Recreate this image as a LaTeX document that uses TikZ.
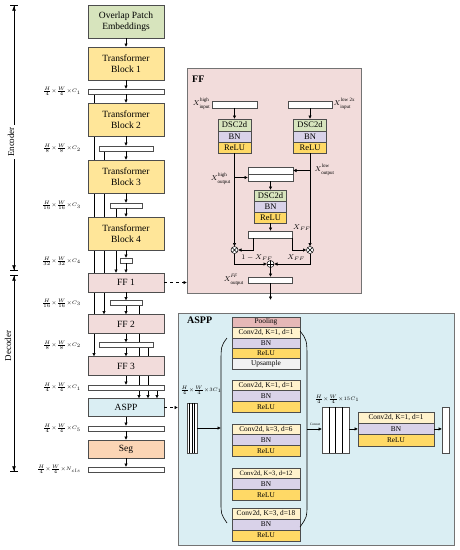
\documentclass[tikz,border=0pt]{standalone}
\usepackage{fontspec}
\setmainfont{Liberation Serif}
\usetikzlibrary{arrows.meta,positioning,calc,backgrounds}
\definecolor{cgreen}{HTML}{D7E4BD}
\definecolor{cyel}{HTML}{FFE699}
\definecolor{cpink}{HTML}{F2DCDB}
\definecolor{cblue}{HTML}{DAEEF3}
\definecolor{cseg}{HTML}{FBD5B5}
\definecolor{cbn}{HTML}{D9D2E9}
\definecolor{crelu}{HTML}{FFD966}
\definecolor{cconv}{HTML}{FFF2CC}
\definecolor{cpool}{HTML}{E6B8B7}
\definecolor{cups}{HTML}{F2F2F2}
\definecolor{edge}{HTML}{4D4D4D}
\newcommand{\tms}{{\times}}
\newcommand{\XX}[2]{$X^{\raisebox{0.9pt}{$\scriptstyle\mathrm{#1}$}}_{\raisebox{-0.9pt}{$\scriptstyle\mathrm{#2}$}}$}
\begin{document}
\begin{tikzpicture}[x=1pt,y=-1pt,
  blk/.style={draw=edge, line width=0.7pt, inner sep=0pt, outer sep=0pt, align=center, minimum width=76pt, font=\fontsize{9.5}{10.5}\selectfont},
  bar/.style={draw=edge, fill=white, line width=0.6pt, inner sep=0pt, outer sep=0pt, minimum height=5pt},
  arr/.style={-{Latex[length=3.5pt,width=3.5pt]}, line width=0.6pt, draw=black},
  dim/.style={font=\fontsize{5.5}{6.5}\selectfont, anchor=east, inner sep=0pt},
  row/.style={draw=edge, line width=0.5pt, inner sep=0pt, outer sep=0pt, minimum width=68pt, font=\fontsize{7.3}{8}\selectfont},
  frow/.style={draw=edge, line width=0.5pt, inner sep=0pt, outer sep=0pt, minimum width=33pt, minimum height=11pt, font=\fontsize{8.5}{9}\selectfont},
  lab/.style={inner sep=0pt, font=\fontsize{7}{8}\selectfont},
  bigbox/.style={draw=black!55, line width=1pt, inner sep=0pt, outer sep=0pt},
  opnode/.style={circle, draw=black, fill=white, line width=0.5pt, minimum size=7pt, inner sep=0pt, outer sep=0pt},
]
\useasboundingbox (0,0) rectangle (459,550);

% ---------------- left column ----------------
\node[blk, fill=cgreen, minimum height=33pt] (ope) at (126,21.5) {Overlap Patch\\Embeddings};
\node[blk, fill=cyel, minimum height=33pt] (tb1) at (126,63.5) {Transformer\\Block 1};
\node[bar, minimum width=76pt] (bar1) at (126,91.5) {};
\node[blk, fill=cyel, minimum height=33pt] (tb2) at (126,119.5) {Transformer\\Block 2};
\node[bar, minimum width=54pt] (bar2) at (126,148.5) {};
\node[blk, fill=cyel, minimum height=33pt] (tb3) at (126,176.5) {Transformer\\Block 3};
\node[bar, minimum width=32pt] (bar3) at (126,205.5) {};
\node[blk, fill=cyel, minimum height=33pt] (tb4) at (126,233.5) {Transformer\\Block 4};
\node[bar, minimum width=12pt] (bar4) at (126,260.5) {};
\node[blk, fill=cpink, minimum height=19pt] (ff1) at (126,282.5) {FF 1};
\node[bar, minimum width=32pt] (bar5) at (126,303) {};
\node[blk, fill=cpink, minimum height=19pt] (ff2) at (126,324) {FF 2};
\node[bar, minimum width=54pt] (bar6) at (126,345) {};
\node[blk, fill=cpink, minimum height=19pt] (ff3) at (126,366) {FF 3};
\node[bar, minimum width=76pt] (bar7) at (126,387.5) {};
\node[blk, fill=cblue, minimum height=18pt] (aspp) at (126,407.5) {ASPP};
\node[bar, minimum width=76pt] (bar8) at (126,428.5) {};
\node[blk, fill=cseg, minimum height=18pt] (seg) at (126,449) {Seg};
\node[bar, minimum width=76pt] (bar9) at (126,469.5) {};

\node[dim] (d1) at (81,91.5) {$\frac{H}{4}\tms\frac{W}{4}\tms C_1$};
\node[dim] (d2) at (81,148.5) {$\frac{H}{8}\tms\frac{W}{8}\tms C_2$};
\node[dim] (d3) at (81,205.5) {$\frac{H}{16}\tms\frac{W}{16}\tms C_3$};
\node[dim] (d4) at (81,261) {$\frac{H}{32}\tms\frac{W}{32}\tms C_4$};
\node[dim] (d5) at (81,303) {$\frac{H}{16}\tms\frac{W}{16}\tms C_3$};
\node[dim] (d6) at (81,345) {$\frac{H}{8}\tms\frac{W}{8}\tms C_2$};
\node[dim] (d7) at (81,387.5) {$\frac{H}{4}\tms\frac{W}{4}\tms C_1$};
\node[dim] (d8) at (81,428.5) {$\frac{H}{4}\tms\frac{W}{4}\tms C_5$};
\node[dim] (d9) at (81,469.5) {$\frac{H}{4}\tms\frac{W}{4}\tms N_{cls}$};

\coordinate (c94) at (94,0);
\coordinate (c104) at (104,0);
\coordinate (c116) at (116,0);
\coordinate (c139) at (139,0);
\coordinate (c148) at (148,0);
\coordinate (c157) at (157,0);

\begin{scope}[on background layer]
\draw[arr] (bar1.south -| c94) -- (ff3.north -| c94);
\draw[arr] (bar2.south -| c104) -- (ff2.north -| c104);
\draw[arr] (bar3.south -| c116) -- (ff1.north -| c116);
\draw[arr] (bar5.south -| c139) -- (aspp.north -| c139);
\draw[arr] (bar6.south -| c148) -- (aspp.north -| c148);
\draw[arr] (bar7.south -| c157) -- (aspp.north -| c157);
\end{scope}

\foreach \a/\b in {ope/tb1,tb1/bar1,bar1/tb2,tb2/bar2,bar2/tb3,tb3/bar3,bar3/tb4,tb4/bar4,bar4/ff1,ff1/bar5,bar5/ff2,ff2/bar6,bar6/ff3,ff3/bar7,aspp/bar8,bar8/seg,seg/bar9}
  \draw[arr] (\a.south) -- (\b.north);

% encoder / decoder
\coordinate (encT) at (14,5);
\coordinate (encB) at (14,271);
\coordinate (decT) at (14,275);
\coordinate (decB) at (14,472);
\draw[line width=0.7pt, {Bar[width=8pt]Latex[length=5pt,width=4pt]}-{Latex[length=5pt,width=4pt]Bar[width=8pt]}] (encT) -- (encB);
\draw[line width=0.7pt, {Bar[width=8pt]Latex[length=5pt,width=4pt]}-{Latex[length=5pt,width=4pt]Bar[width=8pt]}] (decT) -- (decB);
\node[rotate=90, fill=white, inner sep=2pt, font=\fontsize{9}{10}\selectfont] (enc) at (11,142) {Encoder};
\node[rotate=90, inner sep=0pt, font=\fontsize{9}{10}\selectfont] (dec) at (8,346) {Decoder};

% ---------------- FF box ----------------
\node[bigbox, fill=cpink, minimum width=174pt, minimum height=225pt] (ffbox) at (274,180.5) {};
\node[font=\bfseries\fontsize{10}{11}\selectfont, anchor=west, inner sep=0pt] (fft) at (192,79) {FF};
\node[bar, minimum width=45pt, minimum height=7pt] (ib1) at (234.5,104.5) {};
\node[bar, minimum width=44pt, minimum height=7pt] (ib2) at (310,104.5) {};
\node[lab, anchor=east] (lib1) at (210.5,104) {\XX{high}{input}};
\node[lab, anchor=west] (lib2) at (333.5,104) {\XX{low\,2x}{input}};

\node[frow, fill=cgreen, minimum height=12pt, anchor=north] (ld) at (234.5,119) {DSC2d};
\node[frow, fill=cbn, below=0pt of ld] (lb) {BN};
\node[frow, fill=crelu, below=0pt of lb] (lr) {ReLU};
\node[frow, fill=cgreen, minimum height=12pt, anchor=north] (rd) at (310,119) {DSC2d};
\node[frow, fill=cbn, below=0pt of rd] (rb) {BN};
\node[frow, fill=crelu, below=0pt of rb] (rr) {ReLU};

\node[bar, minimum width=45pt, minimum height=7pt] (cu) at (270.5,170.5) {};
\node[bar, minimum width=45pt, minimum height=7pt] (cl) at (270.5,177.5) {};
\node[lab, anchor=east] (lo1) at (231,179) {\XX{high}{output}};
\node[lab, anchor=west] (lo2) at (314.5,170) {\XX{low}{output}};

\node[frow, fill=cgreen, minimum width=32pt, anchor=north] (md) at (270.5,190) {DSC2d};
\node[frow, fill=cbn, minimum width=32pt, below=0pt of md] (mb) {BN};
\node[frow, fill=crelu, minimum width=32pt, below=0pt of mb] (mr) {ReLU};

\node[bar, minimum width=44pt, minimum height=7pt] (xff) at (270.5,234.5) {};
\node[lab, anchor=west] (lxff) at (293,228) {$X_{FF}$};
\node[opnode] (mL) at (234.5,250) {};
\node[opnode] (mR) at (310,250) {};
\draw[line width=0.5pt] (mL.north west) -- (mL.south east) (mL.north east) -- (mL.south west);
\draw[line width=0.5pt] (mR.north west) -- (mR.south east) (mR.north east) -- (mR.south west);
\node[lab] (l1m) at (257,257.5) {$1-X_{FF}$};
\node[lab] (lxr) at (296,257.5) {$X_{FF}$};
\node[opnode] (pl) at (270.5,264) {};
\draw[line width=0.5pt] (pl.north) -- (pl.south) (pl.west) -- (pl.east);
\node[bar, minimum width=44pt, minimum height=6pt] (ob) at (270.5,280) {};
\node[lab, anchor=east] (lob) at (244,280) {\XX{\mathit{FF}}{output}};
\coordinate (ffout) at (270.5,300);

\draw[arr] (ib1) -- (ld);
\draw[arr] (ib2) -- (rd);
\draw[arr] (lr.south) -- (mL.north);
\draw[arr] (rr.south) -- (mR.north);
\draw[arr] (cl.west -| lr.south) -- (cl.west);
\draw[arr] (cu.east -| rr.south) -- (cu.east);
\draw[arr] (cl.south) -- (md.north);
\draw[arr] (mr.south) -- (xff.north);
\draw[arr] ([xshift=4.5pt]xff.south west) |- (mL.east);
\draw[arr] (xff.south east) |- (mR.west);
\draw[arr] (mL.south) |- (pl.west);
\draw[arr] (mR.south) |- (pl.east);
\draw[arr] (pl.south) -- (ob.north);
\draw[arr] (ob.south) -- (ffout);

\draw[arr, dashed] (ff1.east) -- (ff1.east -| ffbox.west);

% ---------------- ASPP box ----------------
\node[bigbox, fill=cblue, minimum width=276pt, minimum height=232pt] (asppbox) at (316,429) {};
\node[font=\bfseries\fontsize{10}{11}\selectfont, anchor=west, inner sep=0pt] (asppt) at (187,320) {ASPP};
\draw[arr, dashed] (aspp.east) -- (aspp.east -| asppbox.west);

\node[row, fill=cpool, minimum height=10.4pt, anchor=north] (p1) at (266,317) {Pooling};
\node[row, fill=cconv, minimum height=10.4pt, below=0pt of p1] (p2) {Conv2d, K=1, d=1};
\node[row, fill=cbn, minimum height=10.4pt, below=0pt of p2] (p3) {BN};
\node[row, fill=crelu, minimum height=10.4pt, below=0pt of p3] (p4) {ReLU};
\node[row, fill=cups, minimum height=10.4pt, below=0pt of p4] (p5) {Upsample};

\node[row, fill=cconv, minimum height=10.67pt, anchor=north] (a1) at (266,380) {Conv2d, K=1, d=1};
\node[row, fill=cbn, minimum height=10.67pt, below=0pt of a1] (a2) {BN};
\node[row, fill=crelu, minimum height=10.67pt, below=0pt of a2] (a3) {ReLU};

\node[row, fill=cconv, minimum height=10.67pt, anchor=north] (b1) at (266,424) {Conv2d, k=3, d=6};
\node[row, fill=cbn, minimum height=10.67pt, below=0pt of b1] (b2) {BN};
\node[row, fill=crelu, minimum height=10.67pt, below=0pt of b2] (b3) {ReLU};

\node[row, fill=cconv, minimum height=10.67pt, anchor=north, font=\fontsize{6.6}{7}\selectfont] (e1) at (266,468) {Conv2d, K=3, d=12};
\node[row, fill=cbn, minimum height=10.67pt, below=0pt of e1] (e2) {BN};
\node[row, fill=crelu, minimum height=10.67pt, below=0pt of e2] (e3) {ReLU};

\node[row, fill=cconv, minimum height=11pt, anchor=north] (f1) at (266,508) {Conv2d, K=3, d=18};
\node[row, fill=cbn, minimum height=11pt, below=0pt of f1] (f2) {BN};
\node[row, fill=crelu, minimum height=11pt, below=0pt of f2] (f3) {ReLU};

% parentheses
\draw[line width=0.6pt] (227,338) .. controls (221,346) .. (221,365) -- (221,502) .. controls (221,514) .. (227,523);
\draw[line width=0.6pt] (300,331) .. controls (307,340) .. (307,360) -- (307,505) .. controls (307,517) .. (300,527);
\coordinate (parL) at (221,428);
\coordinate (parR) at (307,429);

% input block
\node[draw=edge, fill=white, line width=0.6pt, minimum width=10pt, minimum height=50pt, inner sep=0pt, outer sep=0pt] (inb) at (192,428) {};
\draw[line width=0.4pt] ([xshift=2.5pt]inb.north west) -- ([xshift=2.5pt]inb.south west)
  ([xshift=5pt]inb.north west) -- ([xshift=5pt]inb.south west)
  ([xshift=7.5pt]inb.north west) -- ([xshift=7.5pt]inb.south west);
\node[inner sep=0pt, font=\fontsize{5.5}{6}\selectfont] (linb) at (201,390) {$\frac{H}{4}\tms\frac{W}{4}\tms 3C_1$};
\draw[arr] (inb.east) -- (parL);

% concat block
\node[draw=edge, fill=white, line width=0.6pt, minimum width=27pt, minimum height=46pt, inner sep=0pt, outer sep=0pt] (cc) at (335.5,430) {};
\draw[line width=0.5pt] ([xshift=6.75pt]cc.north west) -- ([xshift=6.75pt]cc.south west)
  ([xshift=13.5pt]cc.north west) -- ([xshift=13.5pt]cc.south west)
  ([xshift=20.25pt]cc.north west) -- ([xshift=20.25pt]cc.south west);
\node[inner sep=0pt, font=\fontsize{5.5}{6}\selectfont] (lcc) at (337,399) {$\frac{H}{4}\tms\frac{W}{4}\tms 15C_1$};
\node[inner sep=0pt, font=\fontsize{3.5}{4}\selectfont] (lcat) at (315,424) {Concat};
\draw[arr] (parR) -- (parR -| cc.west);

\node[row, fill=cconv, minimum width=76pt, minimum height=11.3pt, anchor=north] (g1) at (396,412) {Conv2d, K=1, d=1};
\node[row, fill=cbn, minimum width=76pt, minimum height=11.3pt, below=0pt of g1] (g2) {BN};
\node[row, fill=crelu, minimum width=76pt, minimum height=11.3pt, below=0pt of g2] (g3) {ReLU};
\node[draw=edge, fill=white, line width=0.6pt, minimum width=7pt, minimum height=46pt, inner sep=0pt, outer sep=0pt] (ob2) at (445.5,430) {};
\draw[arr] (cc.east |- g2.west) -- (g2.west);
\draw[arr] (g2.east) -- (g2.east -| ob2.west);
\end{tikzpicture}
\end{document}
